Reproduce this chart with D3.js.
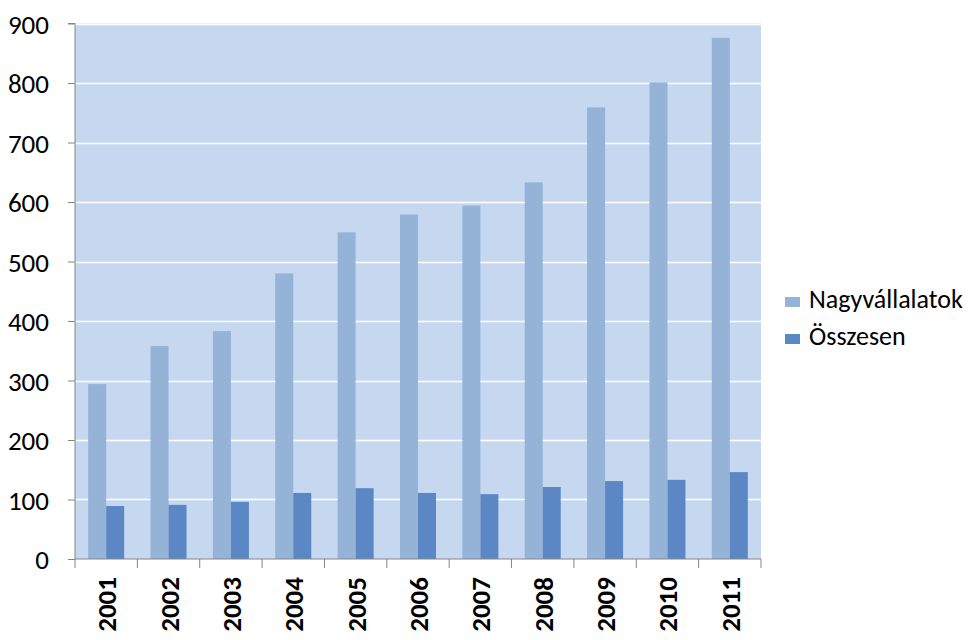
<!DOCTYPE html>
<html><head><meta charset="utf-8">
<script src="https://cdn.jsdelivr.net/npm/d3@7"></script>
<style>body{margin:0;background:#fff}svg{display:block}</style>
</head><body>
<script>
const years = ["2001","2002","2003","2004","2005","2006","2007","2008","2009","2010","2011"];
const nagyvallalatok = [294, 358, 383, 480, 549, 579, 594, 633, 759, 801, 876];
const osszesen = [89, 91, 96, 111, 119, 111, 109, 121, 131, 133, 146];
const seriesNames = ["Nagyvállalatok", "Összesen"];
const yTicks = [0,100,200,300,400,500,600,700,800,900];

const W = 979, H = 640;
const font = "Carlito, Calibri, Lato, 'Open Sans', sans-serif";
const colors = ["#95B3D7", "#5B87C5"];
const svg = d3.select("body").append("svg").attr("width", W).attr("height", H);

const x0 = 75, x1 = 761, yTop = 23.5, yBot = 559;
const x = d3.scaleBand().domain(years).range([x0, x1]).paddingInner(0).paddingOuter(0);
const y = d3.scaleLinear().domain([0, 900]).range([yBot, yTop]);
const barW = 18;
const inner = d3.scaleBand().domain([0,1]).range([0, x.bandwidth()]).paddingInner(0)
  .paddingOuter((x.bandwidth() - 2 * barW) / (2 * barW));

svg.append("rect").attr("x", x0).attr("y", yTop).attr("width", x1 - x0).attr("height", yBot - yTop).attr("fill", "#C5D8F0");

svg.append("g").selectAll("line").data(yTicks.filter(d => d > 0)).join("line")
  .attr("x1", x0).attr("x2", x1).attr("y1", d => Math.round(y(d)) + 0.5).attr("y2", d => Math.round(y(d)) + 0.5)
  .attr("stroke", "#fff").attr("stroke-width", 1.3);

const data = years.map((yr, i) => ({yr, vals: [nagyvallalatok[i], osszesen[i]]}));
const g = svg.append("g");
data.forEach(d => {
  d.vals.forEach((v, j) => {
    g.append("rect").attr("x", x(d.yr) + inner(j)).attr("width", inner.bandwidth())
      .attr("y", y(v)).attr("height", yBot - y(v)).attr("fill", colors[j]);
  });
});

// y axis
const yAxis = d3.axisLeft(y).tickValues(yTicks).tickSize(7).tickPadding(8).tickFormat(d3.format("d"));
const ya = svg.append("g").attr("transform", `translate(${x0},0)`).call(yAxis);
ya.select(".domain").attr("stroke", "#868686").attr("d", `M-7,${yTop}H0V${yBot}`);
ya.selectAll(".tick line").attr("stroke", "#868686");
ya.selectAll("text").attr("font-family", font).attr("font-size", 27).attr("fill", "#000").attr("dx", -11).attr("dy", "0.36em");

// x axis
const xa = svg.append("g").attr("transform", `translate(0,${yBot})`);
xa.append("line").attr("x1", x0).attr("x2", x1).attr("stroke", "#868686");
xa.selectAll("line.t").data(d3.range(years.length + 1)).join("line").attr("class", "t")
  .attr("x1", i => x0 + i * x.bandwidth()).attr("x2", i => x0 + i * x.bandwidth())
  .attr("y1", 0).attr("y2", 9).attr("stroke", "#868686");
xa.selectAll("text").data(years).join("text")
  .attr("transform", d => `translate(${x(d) + x.bandwidth()/2 + 10},18) rotate(-90)`)
  .attr("text-anchor", "end").attr("font-family", font).attr("font-size", 27).attr("font-weight", "bold")
  .attr("fill", "#000").text(d => d);

// legend
const leg = svg.append("g");
seriesNames.forEach((n, i) => {
  const ly = 297 + i * 37;
  leg.append("rect").attr("x", 785).attr("y", ly).attr("width", 15).attr("height", 10).attr("fill", colors[i]);
  leg.append("text").attr("x", 809).attr("y", ly + 11).attr("font-family", font).attr("font-size", 26).attr("fill", "#000").text(n);
});
</script>
</body></html>
